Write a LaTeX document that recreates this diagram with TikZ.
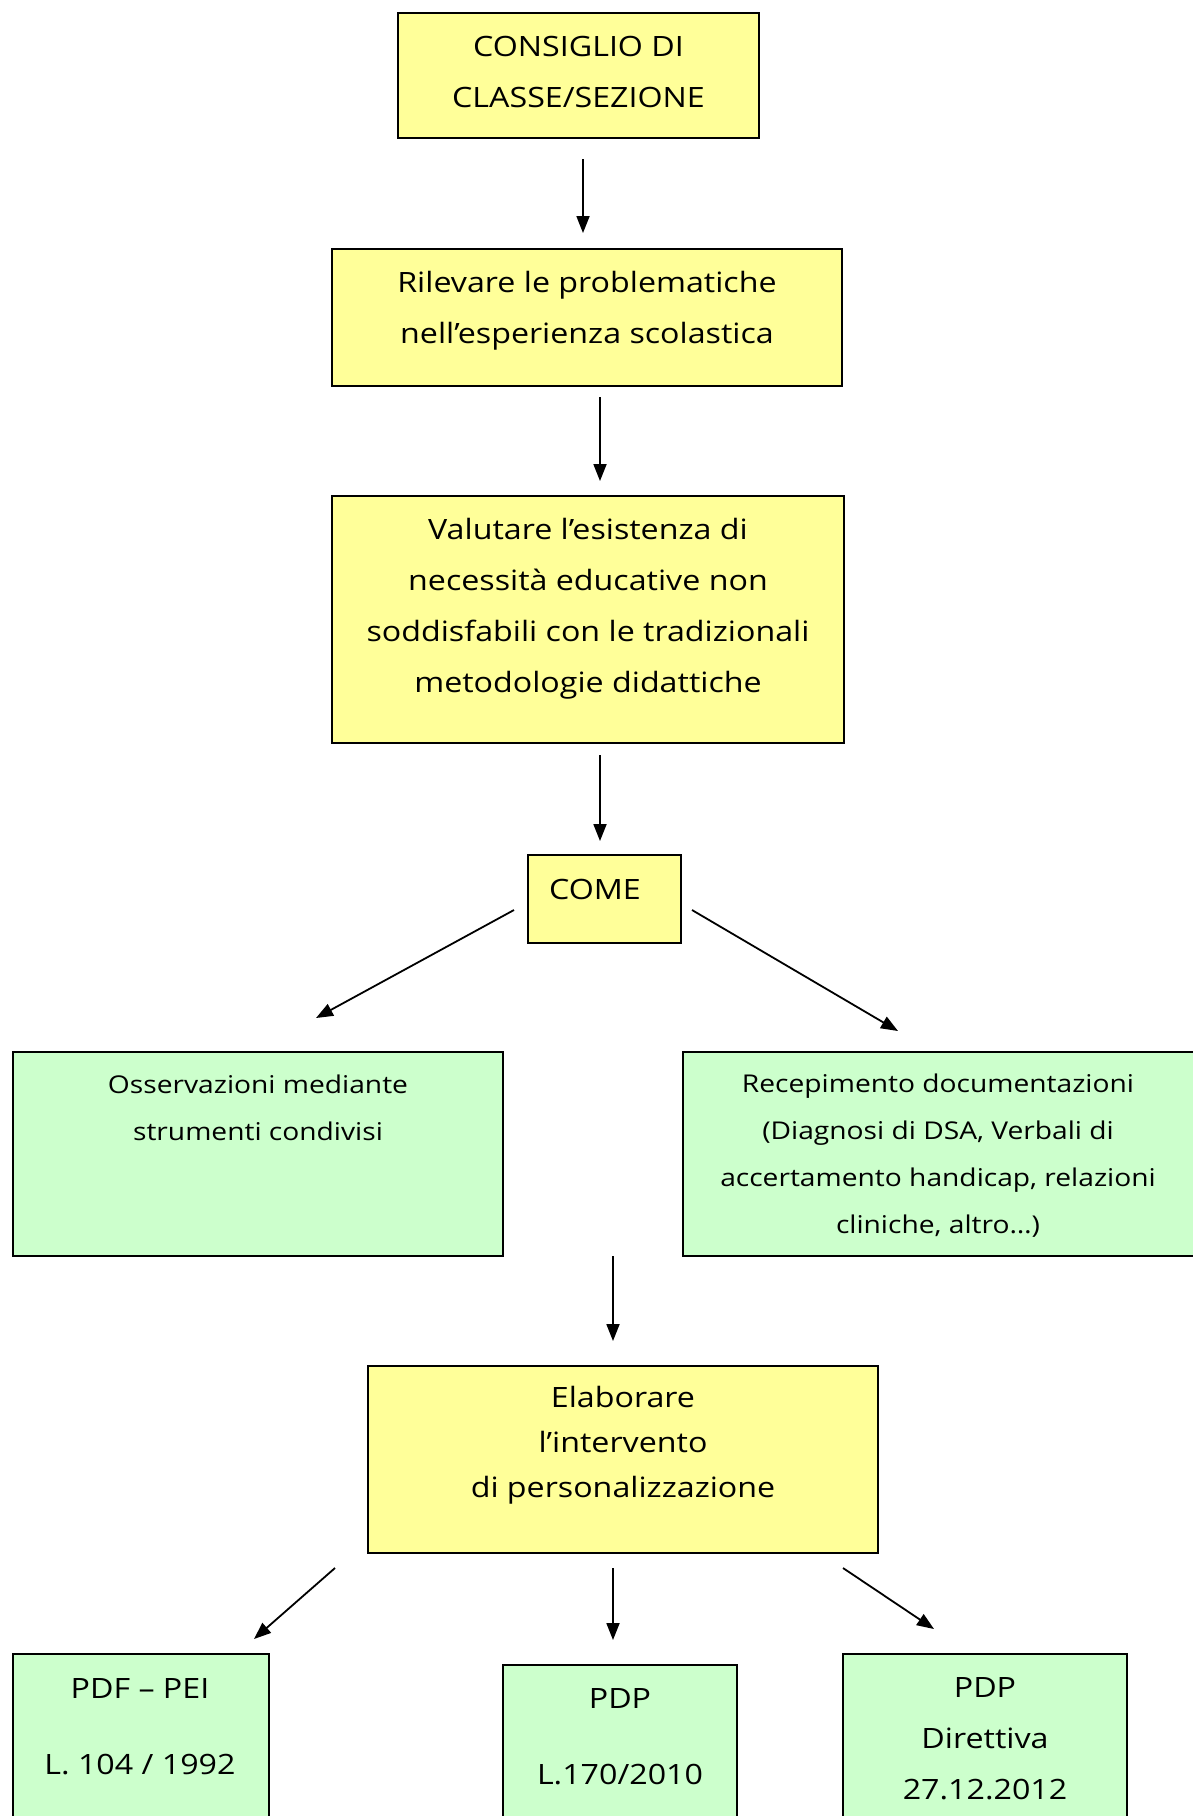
\documentclass[tikz,border=0pt]{standalone}
\usepackage{fontspec}
\setmainfont[FakeStretch=1.15]{Open Sans}
\usetikzlibrary{arrows.meta}
\definecolor{boxyellow}{HTML}{FFFF99}
\definecolor{boxgreen}{HTML}{CCFFCC}
\begin{document}
\begin{tikzpicture}[x=1pt,y=-1pt,
  ybox/.style={draw=black, line width=1.8pt, fill=boxyellow, inner sep=0pt},
  gbox/.style={draw=black, line width=1.8pt, fill=boxgreen, inner sep=0pt},
  ytxt/.style={font=\fontsize{28}{51}\selectfont, align=center, inner sep=0pt},
  gtxt/.style={font=\fontsize{24.5}{47}\selectfont, align=center, inner sep=0pt},
  arr/.style={-{Triangle[length=17pt,width=13pt]}, line width=1.8pt}]
\useasboundingbox (0,0) rectangle (1192,1816);
\fill[white] (0,0) rectangle (1192,1816);
% boxes
\node[ybox, minimum width=361pt, minimum height=125pt] (b1) at (578.5,75.5) {};
\node[ybox, minimum width=510pt, minimum height=137pt] (b2) at (587,317.5) {};
\node[ybox, minimum width=512pt, minimum height=247pt] (b3) at (588,619.5) {};
\node[ybox, minimum width=153pt, minimum height=88pt] (b4) at (604.5,899) {};
\node[gbox, minimum width=490pt, minimum height=204pt] (g1) at (258,1154) {};
\node[gbox, minimum width=530pt, minimum height=204pt] (g2) at (948,1154) {};
\node[ybox, minimum width=510pt, minimum height=187pt] (b5) at (623,1459.5) {};
\node[gbox, minimum width=256pt, minimum height=200pt] (p1) at (141,1754) {};
\node[gbox, minimum width=234pt, minimum height=190pt] (p2) at (620,1760) {};
\node[gbox, minimum width=284pt, minimum height=200pt] (p3) at (985,1754) {};
% texts
\node[ytxt] (t1) at (578.5,72) {CONSIGLIO DI\\CLASSE/SEZIONE};
\node[ytxt] (t2) at (587,311) {Rilevare le problematiche\\nell’esperienza scolastica};
\node[ytxt] (t3) at (588,609) {Valutare l’esistenza di\\necessità educative non\\soddisfabili con le tradizionali\\metodologie didattiche};
\node[ytxt] (t4) at (595,889) {COME};
\node[gtxt] (t5) at (258,1108) {Osservazioni mediante\\strumenti condivisi};
\node[gtxt] (t6) at (938,1156) {Recepimento documentazioni\\(Diagnosi di DSA, Verbali di\\accertamento handicap, relazioni\\cliniche, altro…)};
\node[ytxt, font=\fontsize{28}{45}\selectfont] (t7) at (623,1445) {Elaborare\\l’intervento\\di personalizzazione};
\node[ytxt] (t8) at (140,1688) {PDF – PEI};
\node[ytxt] (t9) at (140,1765) {L. 104 / 1992};
\node[ytxt] (t10) at (620,1698) {PDP};
\node[ytxt] (t11) at (620,1775) {L.170/2010};
\node[ytxt] (t12) at (985,1739) {PDP\\Direttiva\\27.12.2012};
% arrow endpoints
\coordinate (a1s) at (583,159); \coordinate (a1e) at (583,233);
\coordinate (a2s) at (600,397); \coordinate (a2e) at (600,481);
\coordinate (a3s) at (600,755); \coordinate (a3e) at (600,841);
\coordinate (a4s) at (514,910); \coordinate (a4e) at (316,1018);
\coordinate (a5s) at (692,910); \coordinate (a5e) at (898,1031);
\coordinate (a6s) at (613,1256); \coordinate (a6e) at (613,1341);
\coordinate (a7s) at (335,1568); \coordinate (a7e) at (254,1639);
\coordinate (a8s) at (613,1568); \coordinate (a8e) at (613,1640);
\coordinate (a9s) at (843,1568); \coordinate (a9e) at (934,1629);
\foreach \i in {1,...,9} {\draw[arr] (a\i s) -- (a\i e);}
\end{tikzpicture}
\end{document}
